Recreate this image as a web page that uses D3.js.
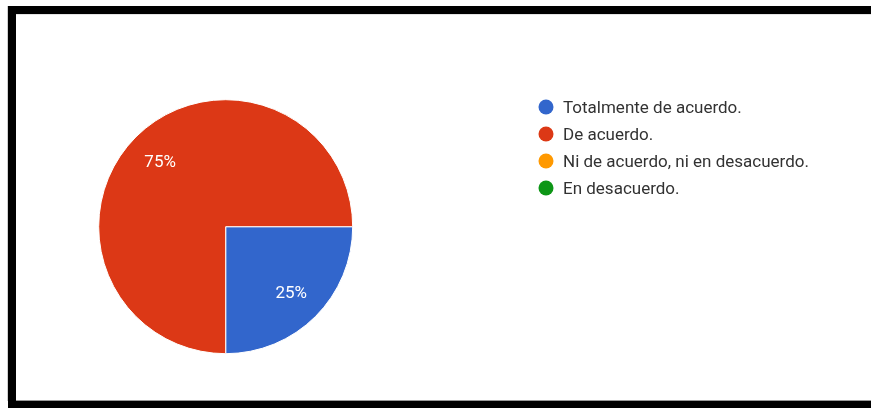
<!DOCTYPE html>
<html>
<head>
<meta charset="utf-8">
<script src="https://cdn.jsdelivr.net/npm/d3@7"></script>
<style>
  html, body { margin: 0; padding: 0; background: #fff; }
  svg { display: block; }
</style>
</head>
<body>
<svg id="chart" width="871" height="408"></svg>
<script>
// Survey answers and their share of responses
const categories = [
  "Totalmente de acuerdo.",
  "De acuerdo.",
  "Ni de acuerdo, ni en desacuerdo.",
  "En desacuerdo."
];
const values = [25, 75, 0, 0];
const colors = ["#3366cc", "#dc3912", "#ff9900", "#109618"];

const width = 871, height = 408;
const svg = d3.select("#chart");

// Slight softening of the chart contents
svg.append("defs").append("filter")
  .attr("id", "soft")
  .append("feGaussianBlur")
  .attr("stdDeviation", 0.45);

// Frame around the card (top, left and bottom edges)
const frame = svg.append("g");
frame.append("rect").attr("x", 7).attr("y", 6).attr("width", 1).attr("height", 395).attr("fill", "#d0d0d0");
frame.append("rect").attr("x", 16).attr("y", 14).attr("width", width - 16).attr("height", 1).attr("fill", "#e4e4e4");
frame.append("rect").attr("x", 16).attr("y", 400).attr("width", width - 16).attr("height", 1).attr("fill", "#9a9a9a");
frame.append("rect").attr("x", 8).attr("y", 6).attr("width", width - 8).attr("height", 8).attr("fill", "#000");
frame.append("rect").attr("x", 8).attr("y", 6).attr("width", 8).attr("height", 402).attr("fill", "#000");
frame.append("rect").attr("x", 8).attr("y", 401).attr("width", width - 8).attr("height", 7).attr("fill", "#000");

const content = svg.append("g").attr("filter", "url(#soft)");

// Pie
const cx = 225.7, cy = 226.7, radius = 127;
const data = categories.map((c, i) => ({ name: c, value: values[i], color: colors[i] }));
const total = d3.sum(values);

const pie = d3.pie()
  .value(d => d.value)
  .sort(null)
  .startAngle(Math.PI / 2)
  .endAngle(Math.PI / 2 + 2 * Math.PI);

const arcs = pie(data).filter(a => a.data.value > 0);
const arc = d3.arc().innerRadius(0).outerRadius(radius);
const labelArc = d3.arc().innerRadius(radius * 0.73).outerRadius(radius * 0.73);

const g = content.append("g").attr("transform", `translate(${cx},${cy})`);
g.selectAll("path.slice")
  .data(arcs)
  .enter().append("path")
  .attr("class", "slice")
  .attr("d", arc)
  .attr("fill", d => d.data.color)
  .attr("stroke", "#fff")
  .attr("stroke-width", 1);

const pct = d3.format(".0%");
g.selectAll("text.pct")
  .data(arcs)
  .enter().append("text")
  .attr("class", "pct")
  .attr("transform", d => `translate(${labelArc.centroid(d)})`)
  .attr("text-anchor", "middle")
  .attr("dy", "0.36em")
  .attr("font-family", "Roboto, Arial, sans-serif")
  .attr("font-size", 17)
  .attr("fill", "#fff")
  .text(d => pct(d.data.value / total));

// Legend
const legendX = 546, legendY = 107, rowGap = 27;
const legend = content.append("g");
const rows = legend.selectAll("g.row")
  .data(data)
  .enter().append("g")
  .attr("class", "row")
  .attr("transform", (d, i) => `translate(${legendX},${legendY + i * rowGap})`);
rows.append("circle")
  .attr("r", 7.5)
  .attr("fill", d => d.color);
rows.append("text")
  .attr("x", 17)
  .attr("dy", "0.36em")
  .attr("font-family", "Roboto, Arial, sans-serif")
  .attr("font-size", 17)
  .attr("fill", "#333")
  .text(d => d.name);
</script>
</body>
</html>
